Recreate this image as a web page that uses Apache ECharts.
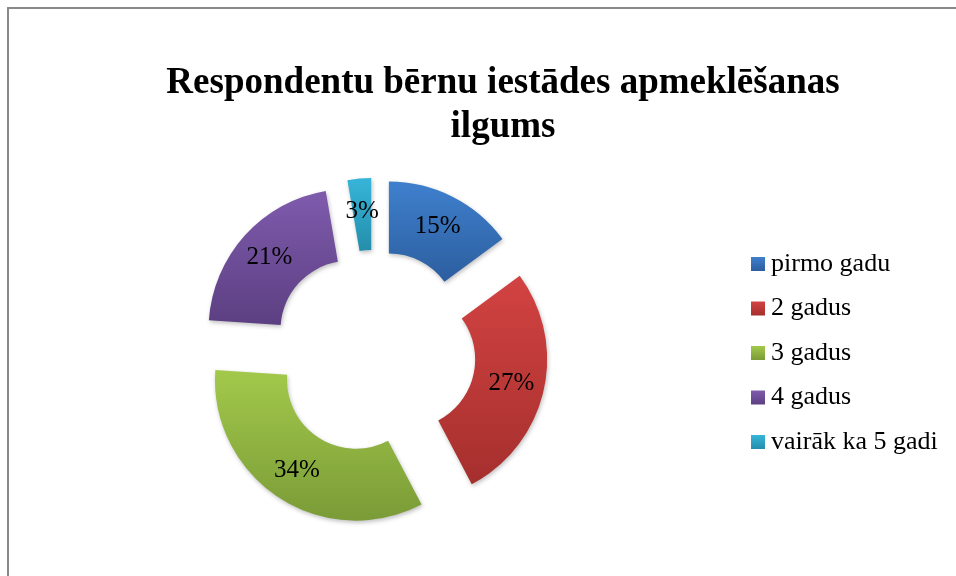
<!DOCTYPE html>
<html>
<head>
<meta charset="utf-8">
<script src="https://cdn.jsdelivr.net/npm/echarts@6/dist/echarts.min.js"></script>
<style>
html,body{margin:0;padding:0;background:#fff;}
#chart{width:956px;height:576px;}
</style>
</head>
<body>
<div id="chart"></div>
<script>
var titleText = 'Respondentu bērnu iestādes apmeklēšanas\nilgums';
var categories = ['pirmo gadu', '2 gadus', '3 gadus', '4 gadus', 'vairāk ka 5 gadi'];
var values = [14.9, 27.4, 33.8, 21.2, 2.7];
var topColors = ['#3f80cd', '#d24342', '#a3c94b', '#7f5bad', '#36b5d9'];
var bottomColors = ['#2c5e9f', '#a52f2d', '#7a9b37', '#5c3f82', '#248eab'];

var data = categories.map(function (name, i) {
  return {
    name: name,
    value: values[i],
    selected: true,
    itemStyle: {
      color: {
        type: 'linear', x: 0, y: 0, x2: 0, y2: 1,
        colorStops: [{offset: 0, color: topColors[i]}, {offset: 1, color: bottomColors[i]}]
      }
    }
  };
});

var chart = echarts.init(document.getElementById('chart'), null, {renderer: 'canvas'});
chart.setOption({
  backgroundColor: '#ffffff',
  animation: false,
  title: {
    text: titleText,
    left: 498,
    top: 56,
    textAlign: 'center',
    textStyle: {
      fontFamily: 'Liberation Serif',
      fontSize: 37,
      fontWeight: 'bold',
      color: '#000',
      lineHeight: 44
    }
  },
  legend: {
    orient: 'vertical',
    left: 751,
    top: 251,
    padding: 0,
    itemWidth: 14,
    itemHeight: 14,
    itemGap: 18.5,
    icon: 'rect',
    selectedMode: false,
    textStyle: {
      fontFamily: 'Liberation Serif',
      fontSize: 26,
      lineHeight: 26,
      color: '#000',
      padding: [0, 0, 0, 1]
    },
    data: categories
  },
  graphic: [{
    type: 'rect',
    shape: {x: 8, y: 8, width: 1000, height: 1000},
    style: {fill: 'none', stroke: '#8a8a8a', lineWidth: 2},
    silent: true,
    z: -1
  }],
  series: [{
    type: 'pie',
    center: [374, 352],
    radius: [69, 141],
    startAngle: 90,
    clockwise: true,
    selectedMode: 'multiple',
    selectedOffset: 33,
    percentPrecision: 0,
    avoidLabelOverlap: false,
    emphasis: {disabled: true, scale: false},
    itemStyle: {
      shadowColor: 'rgba(0,0,0,0.25)',
      shadowBlur: 4,
      shadowOffsetX: 1,
      shadowOffsetY: 2
    },
    label: {
      show: true,
      position: 'inside',
      formatter: '{d}%',
      fontFamily: 'Liberation Serif',
      fontSize: 25,
      color: '#000',
      offset: [0, 4]
    },
    labelLine: {show: false},
    data: data
  }]
});
</script>
</body>
</html>
